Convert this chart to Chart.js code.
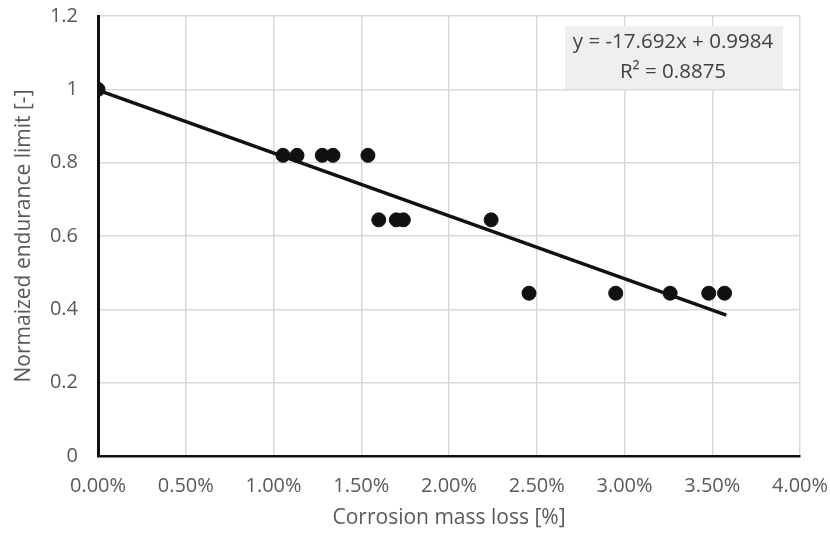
<!DOCTYPE html>
<html>
<head>
<meta charset="utf-8">
<script src="https://cdn.jsdelivr.net/npm/chart.js@4.4.1/dist/chart.umd.min.js"></script>
<style>
    body { margin: 0; background: #fff; }
    canvas { display: block; }
</style>
</head>
<body>
<canvas id="myChart" width="830" height="536"></canvas>
<script>
// corrosion mass loss (fraction, shown as %) and normalized endurance limit
const massLoss = [0, 0.01054, 0.01134, 0.01278, 0.01339, 0.01538, 0.0160, 0.0170, 0.0174, 0.0224, 0.02456, 0.0295, 0.0326, 0.0348, 0.0357];
const endurance = [1.0, 0.82, 0.82, 0.82, 0.82, 0.82, 0.644, 0.644, 0.644, 0.644, 0.444, 0.444, 0.444, 0.444, 0.444];

// linear trendline end points as drawn
const trendX = [0, 0.0358];
const trendY = [0.998, 0.384];
const trendLabel = ["y = -17.692x + 0.9984", "R\u00b2 = 0.8875"];

const yTickLabels = ["0", "0.2", "0.4", "0.6", "0.8", "1", "1.2"];

const textColor = "#595959";
const fontFamily = "'Open Sans', sans-serif";

const points = massLoss.map((x, i) => ({ x: x, y: endurance[i] }));
const trend = trendX.map((x, i) => ({ x: x, y: trendY[i] }));

// draws the equation box in the upper right corner
const equationBox = {
    id: "equationBox",
    afterDraw(chart) {
        const ctx = chart.ctx;
        ctx.save();
        ctx.fillStyle = "#efefef";
        ctx.fillRect(565, 26, 218, 63);
        ctx.fillStyle = "#404040";
        ctx.font = "20.5px " + fontFamily;
        ctx.textAlign = "center";
        ctx.textBaseline = "middle";
        ctx.fillText(trendLabel[0], 673, 42);
        ctx.fillText(trendLabel[1], 673, 72);
        ctx.restore();
    },
};

new Chart(document.getElementById("myChart"), {
    type: "scatter",
    data: {
        datasets: [
            {
                data: trend,
                showLine: true,
                borderColor: "#111",
                borderWidth: 3.5,
                pointRadius: 0,
                order: 0,
            },
            {
                data: points,
                backgroundColor: "#111",
                borderColor: "#111",
                pointRadius: 7,
                order: 1,
            },
        ],
    },
    options: {
        responsive: false,
        animation: false,
        layout: { padding: { left: 0, right: 30, top: 16, bottom: 0 } },
        plugins: {
            legend: { display: false },
            tooltip: { enabled: false },
        },
        scales: {
            x: {
                type: "linear",
                min: 0,
                max: 0.04,
                afterFit: (scale) => {
                    scale.height = 80;
                    scale.paddingLeft = 0;
                    scale.paddingRight = 0;
                },
                ticks: {
                    stepSize: 0.005,
                    padding: 18,
                    color: textColor,
                    font: { family: fontFamily, size: 20 },
                    maxRotation: 0,
                    callback: (v) => (v * 100).toFixed(2) + "%",
                },
                grid: { color: "#d9d9d9", lineWidth: 1.5, drawTicks: false },
                border: { color: "#111", width: 2.5 },
                title: {
                    display: true,
                    text: "Corrosion mass loss [%]",
                    color: textColor,
                    font: { family: fontFamily, size: 21 },
                    padding: { top: 0, bottom: 5 },
                },
            },
            y: {
                min: 0,
                max: 1.2,
                afterFit: (scale) => {
                    scale.width = 98;
                    scale.paddingTop = 0;
                    scale.paddingBottom = 0;
                },
                ticks: {
                    stepSize: 0.2,
                    padding: 20,
                    color: textColor,
                    font: { family: fontFamily, size: 20 },
                    callback: (v, i) => yTickLabels[i],
                },
                grid: { color: "#d9d9d9", lineWidth: 1.5, drawTicks: false },
                border: { color: "#111", width: 3 },
                title: {
                    display: true,
                    text: "Normaized endurance limit [-]",
                    color: textColor,
                    font: { family: fontFamily, size: 21 },
                    padding: { top: 11, bottom: 0 },
                },
            },
        },
    },
    plugins: [equationBox],
});
</script>
</body>
</html>
